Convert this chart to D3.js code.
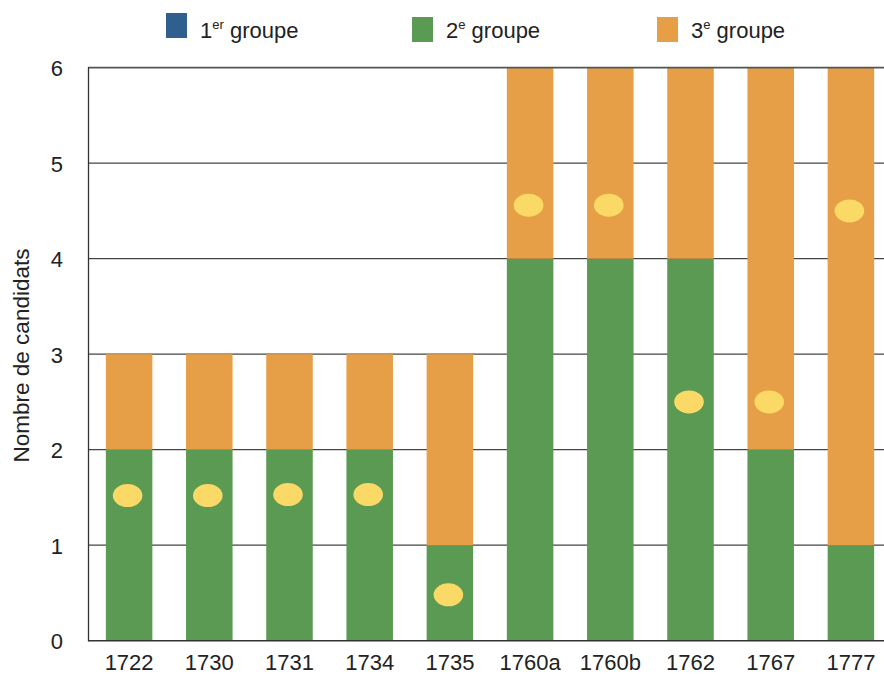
<!DOCTYPE html>
<html><head><meta charset="utf-8">
<script src="https://cdn.jsdelivr.net/npm/d3@7"></script>
<style>body{margin:0;background:#fff}svg{display:block;font-family:"Liberation Sans",Arial,sans-serif}</style>
</head><body><svg id="c" width="884" height="674"></svg>
<script>
const categories = ["1722","1730","1731","1734","1735","1760a","1760b","1762","1767","1777"];
const groupe1 = [0,0,0,0,0,0,0,0,0,0];
const groupe2 = [2,2,2,2,1,4,4,4,2,1];
const groupe3 = [1,1,1,1,2,2,2,2,4,5];
const markers = [1.52,1.52,1.53,1.53,0.48,4.56,4.56,2.5,2.5,4.5];
const yTicks = [0,1,2,3,4,5,6];
const seriesNames = ["1er groupe","2e groupe","3e groupe"];
const colors = ["#2e5f8f","#5a9a52","#e69f46"];

const svg = d3.select("#c");
const x = d3.scaleBand().domain(categories).range([89, 891]).paddingInner(0.42).paddingOuter(0.21);
const y = d3.scaleLinear().domain([0,6]).range([640.7, 67.7]);

// gridlines
svg.append("g").selectAll("line").data(yTicks.filter(d=>d>0&&d<6)).join("line")
  .attr("x1", 88).attr("x2", 884).attr("y1", d=>y(d)).attr("y2", d=>y(d))
  .attr("stroke", "#444").attr("stroke-width", 1.3);

// stacked bars
const rows = categories.map((c,i)=>({cat:c, g1:groupe1[i], g2:groupe2[i], g3:groupe3[i]}));
const stack = d3.stack().keys(["g1","g2","g3"])(rows);
svg.append("g").selectAll("g").data(stack).join("g").attr("fill",(d,i)=>colors[i])
  .selectAll("rect").data(d=>d).join("rect")
  .attr("x", d=>x(d.data.cat)).attr("width", x.bandwidth())
  .attr("y", d=>y(d[1])).attr("height", d=>y(d[0])-y(d[1]));

// markers
svg.append("g").selectAll("ellipse").data(markers).join("ellipse")
  .attr("cx",(d,i)=>x(categories[i])+x.bandwidth()/2 - 1.5)
  .attr("cy", d=>y(d)).attr("rx", 14.8).attr("ry", 11.5).attr("fill", "#fbd966");

// frame lines
svg.append("line").attr("x1",88).attr("x2",884).attr("y1",y(6)).attr("y2",y(6)).attr("stroke","#555").attr("stroke-width",1.8);
svg.append("line").attr("x1",88).attr("x2",884).attr("y1",y(0)).attr("y2",y(0)).attr("stroke","#333").attr("stroke-width",1.5);
svg.append("line").attr("x1",88.5).attr("x2",88.5).attr("y1",y(6)-0.5).attr("y2",y(0)+0.5).attr("stroke","#333").attr("stroke-width",1.3);

// y axis labels
const yAxis = d3.axisLeft(y).tickValues(yTicks).tickFormat(d3.format("d")).tickSize(0).tickPadding(25);
const ya = svg.append("g").attr("transform","translate(88,0)").call(yAxis);
ya.select(".domain").remove();
ya.attr("font-size",22).attr("font-family","Liberation Sans, Arial, sans-serif");
ya.selectAll("text").attr("fill","#222").attr("dy","0.36em");

// x axis labels
const xAxis = d3.axisBottom(x).tickSize(0).tickPadding(14);
const xa = svg.append("g").attr("transform",`translate(0,${y(0)})`).call(xAxis);
xa.select(".domain").remove();
xa.attr("font-size",22).attr("font-family","Liberation Sans, Arial, sans-serif");
xa.selectAll("text").attr("fill","#222").attr("dy","0.71em");

// y title
svg.append("text").attr("transform","translate(29,355.5) rotate(-90)").attr("text-anchor","middle")
  .attr("font-size",22.5).attr("fill","#222").text("Nombre de candidats");

// legend
const legX = [166, 412, 657];
const legY = [13, 17, 17];
const leg = svg.append("g").selectAll("g").data(seriesNames).join("g");
leg.append("rect").attr("x",(d,i)=>legX[i]).attr("y",(d,i)=>legY[i]).attr("width",21).attr("height",25).attr("fill",(d,i)=>colors[i]);
const lt = leg.append("text").attr("x",(d,i)=>legX[i]+34).attr("y",38).attr("font-size",22).attr("fill","#222");
lt.append("tspan").text(d=>d[0]);
lt.append("tspan").attr("font-size",13).attr("dy",-9).text(d=>d.slice(1, d.indexOf(" ")));
lt.append("tspan").attr("dy",9).text(d=>d.slice(d.indexOf(" ")));
</script></body></html>
